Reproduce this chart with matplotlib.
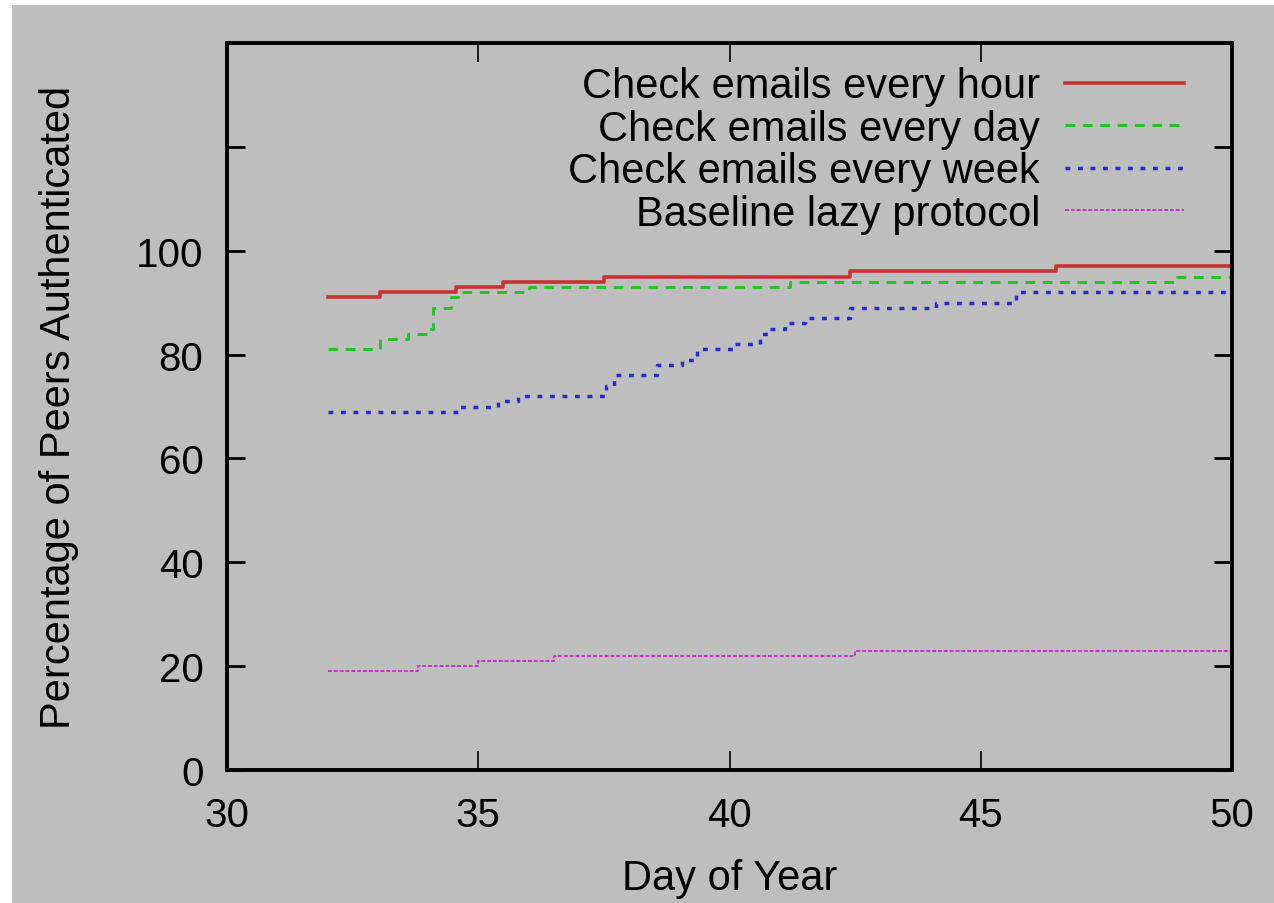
import matplotlib
matplotlib.use("Agg")
import matplotlib.pyplot as plt
from matplotlib.patches import Rectangle

plt.rcParams["font.family"] = ["Liberation Sans", "DejaVu Sans"]
plt.rcParams["lines.scale_dashes"] = False

# Step data: day of year at which each level begins, and the level reached
hour_days = [32, 33.05, 34.55, 35.5, 37.5, 42.4, 46.5, 50]
hour_pct = [91, 92, 93, 94, 95, 96, 97, 97]

day_days = [32, 33.05, 33.6, 34.0, 34.1, 34.45, 34.6, 36.0, 41.2, 48.9, 50]
day_pct = [81, 83, 84, 85, 89, 91, 92, 93, 94, 95, 95]

week_days = [32, 34.6, 35.4, 35.8, 37.55, 37.7, 38.55, 39.05, 39.35, 40.1,
             40.6, 40.8, 41.1, 41.5, 42.4, 44.1, 45.7, 50]
week_pct = [69, 70, 71, 72, 74, 76, 78, 79, 81, 82,
            84, 85, 86, 87, 89, 90, 92, 92]

lazy_days = [32, 33.8, 35.0, 36.5, 42.5, 50]
lazy_pct = [19, 20, 21, 22, 23, 23]

labels = ["Check emails every hour", "Check emails every day",
          "Check emails every week", "Baseline lazy protocol"]
x_ticks = [30, 35, 40, 45, 50]
y_ticks = [0, 20, 40, 60, 80, 100, 120]
y_tick_labels = ["0", "20", "40", "60", "80", "100", ""]

W, H = 1274, 904
fig = plt.figure(figsize=(W / 100, H / 100), dpi=100, facecolor="white")
fig.patches.append(Rectangle((12 / W, 0), 1 - 12 / W, 1 - 6 / H,
                             transform=fig.transFigure, facecolor="#bebebe",
                             edgecolor="none", zorder=-10))

ax = fig.add_axes([227 / W, (H - 771) / H, (1232 - 227) / W, (771 - 44) / H])
ax.set_facecolor("#bebebe")

ax.plot(hour_days, hour_pct, drawstyle="steps-post", color="#c83232",
        lw=2.6, label=labels[0])
ax.plot(day_days, day_pct, drawstyle="steps-post", color="#22c322",
        lw=2.1, dashes=(7, 5.5), label=labels[1])
ax.plot(week_days, week_pct, drawstyle="steps-post", color="#2a2acc",
        lw=2.5, dashes=(3.5, 5.5), label=labels[2])
ax.plot(lazy_days, lazy_pct, drawstyle="steps-post", color="#cc22cc",
        lw=1.3, dashes=(2.8, 1.4), label=labels[3])

ax.set_xlim(30, 50)
ax.set_ylim(0, 140)
ax.set_xticks(x_ticks)
ax.set_yticks(y_ticks)
ax.set_yticklabels(y_tick_labels)

for s in ax.spines.values():
    s.set_linewidth(2.8)
ax.tick_params(axis="both", direction="in", top=True, right=True,
               labelsize=29, colors="black")
ax.tick_params(axis="y", length=13, width=2.0, pad=17)
ax.tick_params(axis="x", length=14, width=1.2, pad=19)

ax.set_xlabel("Day of Year", fontsize=30, labelpad=17)
ax.set_ylabel("Percentage of Peers Authenticated", fontsize=30, labelpad=41)

leg = ax.legend(loc="upper right", bbox_to_anchor=(0.952, 0.968),
                frameon=False, fontsize=30, markerfirst=False,
                handlelength=2.85, handletextpad=0.6, labelspacing=0.06,
                borderaxespad=0, borderpad=0)
# right-align the legend rows so the texts end at the same place
for col in leg._legend_handle_box.get_children():
    col.align = "right"

fig.savefig("out.png", dpi=100, facecolor="white")
